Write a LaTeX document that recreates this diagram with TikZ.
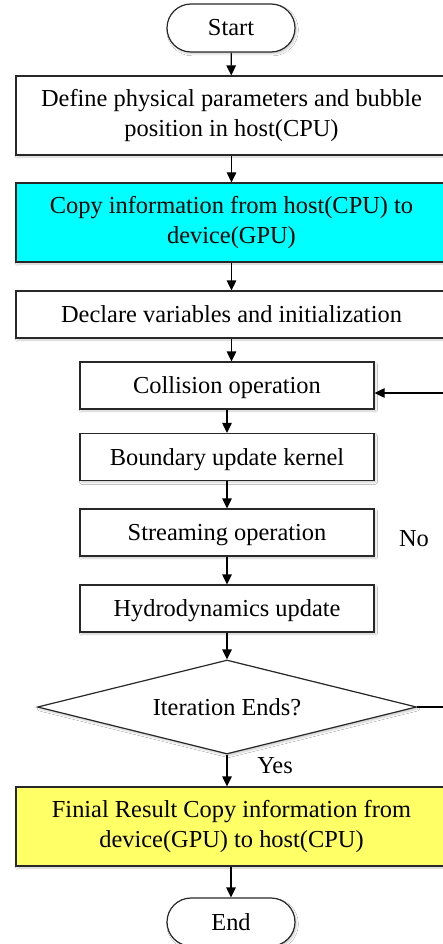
\documentclass[tikz,border=0pt]{standalone}
\usepackage{fontspec}
\setmainfont{Liberation Serif}
\usetikzlibrary{arrows.meta,shapes.geometric,shadows.blur}

\definecolor{boxline}{RGB}{40,40,40}
\definecolor{cyanfill}{RGB}{0,255,255}
\definecolor{yellowfill}{RGB}{255,255,102}

\tikzset{
  x=1pt, y=-1pt,
  flow/.style={draw=boxline, line width=1.2pt, fill=white, align=center,
    font=\fontsize{24.4}{29.5}\selectfont, inner sep=0pt,
    blur shadow={shadow xshift=1.5pt, shadow yshift=-2pt, shadow blur steps=4, shadow opacity=20}},
  wide/.style={flow, minimum width=431pt},
  % single-line steps: a strut keeps the baseline low like the other boxes
  stepbox/.style={flow, minimum width=294pt, minimum height=47pt,
    execute at begin node={\rule{0pt}{22pt}}},
  terminal/.style={flow, rounded corners=24pt, minimum width=128pt, minimum height=48pt},
  decision/.style={flow, diamond, aspect=4.03, minimum width=379pt, minimum height=94pt},
  link/.style={draw=black, line width=1.2pt, -{Triangle[length=10pt,width=9.5pt]}},
  plainlink/.style={draw=black, line width=1.2pt},
  tag/.style={font=\fontsize{24.4}{29.5}\selectfont, inner sep=0pt}
}

\begin{document}
\begin{tikzpicture}
  \useasboundingbox (0,0) rectangle (443,944);
  \clip (0,0) rectangle (443,944);
  \fill[white] (0,0) rectangle (443,944);

  % terminals
  \node[terminal] (start) at (231,28) {Start};
  \node[terminal] (finish) at (231,922) {End};

  % full-width boxes
  \node[wide, minimum height=79pt] (define) at (231.5,115.5)
    {Define physical parameters and bubble\\position in host(CPU)};
  \node[wide, minimum height=79pt, fill=cyanfill] (copyin) at (231.5,222.5)
    {Copy information from host(CPU) to\\device(GPU)};
  \node[wide, minimum height=47pt] (declare) at (231.5,314.5)
    {Declare variables and initialization};

  % kernel loop
  \node[stepbox] (collide) at (227,385.5) {Collision operation};
  \node[stepbox] (boundary) at (227,457) {Boundary update kernel};
  \node[stepbox] (stream) at (227,532.5) {Streaming operation};
  \node[stepbox] (hydro) at (227,608.5) {Hydrodynamics update};
  \node[decision] (iter) at (227,707) {Iteration Ends?};

  \node[wide, minimum height=79pt, fill=yellowfill] (copyout) at (231.5,826.5)
    {Finial Result Copy information from\\device(GPU) to host(CPU)};

  % labels
  \node[tag] (yes) at (275,766) {Yes};
  \node[tag] (no) at (414,539) {No};

  % connectors
  \draw[link] (start) -- (define);
  \draw[link] (define) -- (copyin);
  \draw[link] (copyin) -- (declare);
  \draw[link] (declare.south) -- (declare.south |- collide.north);
  \draw[link] (collide) -- (boundary);
  \draw[link] (boundary) -- (stream);
  \draw[link] (stream) -- (hydro);
  \draw[link] (hydro) -- (iter);
  \draw[link] (iter.south) -- (iter.south |- copyout.north);
  \draw[link] (copyout.south -| finish.north) -- (finish.north);

  % return path of the loop
  \coordinate (loopA) at (447,707);
  \coordinate (loopB) at (447,393);
  \draw[plainlink] (iter.east) -- (loopA) -- (loopB);
  \draw[link] (loopB) -- (collide.east |- loopB);
\end{tikzpicture}
\end{document}
